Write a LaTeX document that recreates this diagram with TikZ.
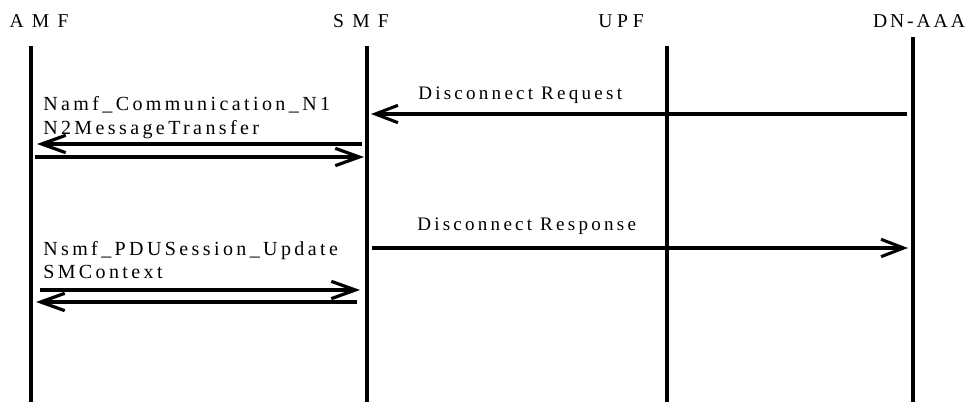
\documentclass[tikz,border=0pt]{standalone}
\usepackage{fontspec}
\setmainfont{Liberation Serif}
\newfontfamily\hdrfont{Liberation Serif}[LetterSpace=42]
\newfontfamily\msgfont{Liberation Serif}[LetterSpace=17]
\usetikzlibrary{arrows.meta}
\begin{document}
\begin{tikzpicture}[x=0.75pt,y=0.75pt,yscale=-1,xscale=1,
	hdr/.style={anchor=base,inner sep=0pt,font=\hdrfont\fontsize{14.7}{17}\selectfont},
	lifeline/.style={line width=3pt},
	msgtext/.style={inner sep=0pt,align=left,font=\msgfont\fontsize{15}{17.5}\selectfont},
	msg/.style={line width=2.4pt,-{Straight Barb[length=18pt,width=13pt]}},
	discmsg/.style={line width=2.3pt,-{Straight Barb[length=17pt,width=13pt]}}]
	\useasboundingbox (0,0) rectangle (976,402);
	
	% Text Node
	\node (amf) [hdr] at (39,28) {AMF};
	% Text Node
	\node (smf) [hdr] at (361,28) {SMF};
	% Text Node
	\node (upf) [hdr] at (621,28) {\addfontfeature{LetterSpace=24}UPF};
	% Text Node
	\node (dnaaa) [hdr] at (919,28) {\addfontfeature{LetterSpace=15}DN-AAA};
	
	%Straight Lines
	\coordinate (amf top) at (31,46);
	\coordinate (amf bot) at (31,402);
	\coordinate (smf top) at (367,46);
	\coordinate (smf bot) at (367,402);
	\coordinate (upf top) at (667,46);
	\coordinate (upf bot) at (667,402);
	\coordinate (dnaaa top) at (913,37);
	\coordinate (dnaaa bot) at (913,402);
	\draw [lifeline] (amf top) -- (amf bot);
	\draw [lifeline] (smf top) -- (smf bot);
	\draw [lifeline] (upf top) -- (upf bot);
	\draw [lifeline] (dnaaa top) -- (dnaaa bot);
	
	%Straight Lines
	\coordinate (req from) at (907,114);
	\coordinate (req to) at (371,114);
	\draw [discmsg] (req from) -- (req to);
	\coordinate (n2 back from) at (362,144);
	\coordinate (n2 back to) at (37,144);
	\draw [msg] (n2 back from) -- (n2 back to);
	\coordinate (n2 from) at (35,157);
	\coordinate (n2 to) at (364,157);
	\draw [msg] (n2 from) -- (n2 to);
	
	%Straight Lines
	\coordinate (rsp from) at (372,248);
	\coordinate (rsp to) at (908,248);
	\draw [discmsg] (rsp from) -- (rsp to);
	\coordinate (upd from) at (40,290);
	\coordinate (upd to) at (360,290);
	\draw [msg] (upd from) -- (upd to);
	\coordinate (upd back from) at (357,302);
	\coordinate (upd back to) at (36,302);
	\draw [msg] (upd back from) -- (upd back to);
	
	% Text Node
	\node (reqtext) [msgtext,anchor=base west,font=\msgfont\fontsize{14.3}{17}\selectfont] at (418,100) {Disconnect Request};
	% Text Node
	\node (n2text) [msgtext,anchor=north west] at (43,96.5) {Namf\_Communication\_N1\\N2MessageTransfer};
	% Text Node
	\node (rsptext) [msgtext,anchor=base west,font=\msgfont\fontsize{14.3}{17}\selectfont] at (417,231) {Disconnect Response};
	% Text Node
	\node (updtext) [msgtext,anchor=north west] at (43,241) {Nsmf\_PDUSession\_Update\\SMContext};
	
\end{tikzpicture}
\end{document}
